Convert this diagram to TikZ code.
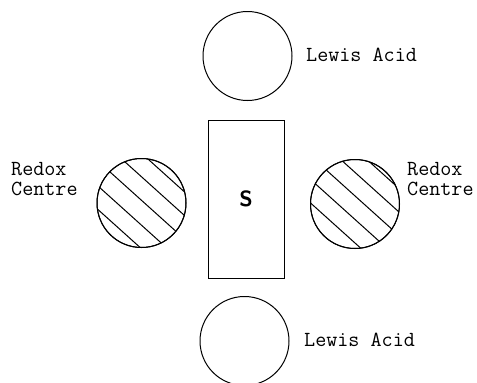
\documentclass[tikz,border=0pt]{standalone}
\begin{document}
\begin{tikzpicture}[x=1pt,y=-1pt,
  outline/.style={draw=black,line width=1pt},
  ball/.style={outline,circle,minimum size=89pt,inner sep=0pt},
  hatch/.style={line width=1pt},
  lbl/.style={font=\ttfamily\fontsize{21.5}{20}\selectfont,inner sep=0pt,align=left},
  sbox/.style={outline,rectangle,minimum width=76pt,minimum height=158pt,inner sep=0pt,
    font=\sffamily\bfseries\fontsize{22}{22}\selectfont}]
\useasboundingbox (0,0) rectangle (477,383);
% central substrate
\node[sbox] (s) at (246,199) {S};
% Lewis acids
\node[ball] (la1) at (247.5,56) {};
\node[ball] (la2) at (244.5,341) {};
\node[lbl,anchor=base west] (la1t) at (306,61) {Lewis Acid};
\node[lbl,anchor=base west] (la2t) at (304,346) {Lewis Acid};
% redox centres
\node[ball] (rc1) at (141.5,203) {};
\node[ball] (rc2) at (355,204) {};
\begin{scope}
  \clip (rc1.center) circle (44.5);
  \begin{scope}[shift={(rc1.center)}]
    \foreach \o in {-37,-19.5,-2,16.5,34}
      \draw[hatch] ({\o*(-0.669)-60*0.743},{\o*0.743-60*0.669}) -- ({\o*(-0.669)+60*0.743},{\o*0.743+60*0.669});
  \end{scope}
\end{scope}
\begin{scope}
  \clip (rc2.center) circle (44.5);
  \begin{scope}[shift={(rc2.center)}]
    \foreach \o in {-41,-23.5,-6,11.5,29}
      \draw[hatch] ({\o*(-0.669)-60*0.743},{\o*0.743-60*0.669}) -- ({\o*(-0.669)+60*0.743},{\o*0.743+60*0.669});
  \end{scope}
\end{scope}
\node[ball] at (rc1) {};
\node[ball] at (rc2) {};
\node[lbl,anchor=base west] (rc1t) at (11,195) {Redox\\Centre};
\node[lbl,anchor=base west] (rc2t) at (407,195) {Redox\\Centre};
\end{tikzpicture}
\end{document}
